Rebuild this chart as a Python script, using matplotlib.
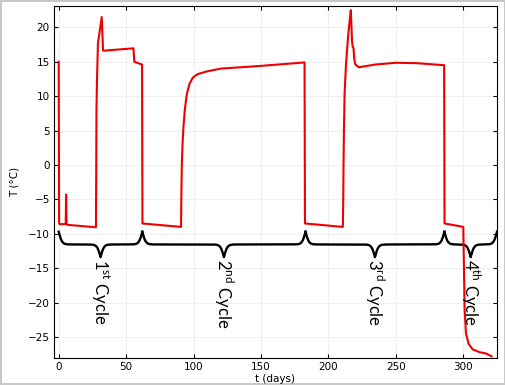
import numpy as np
import matplotlib.pyplot as plt

# temperature record (days, degC)
t_days = [0, 0.3, 0.6, 4.8, 5.2, 5.5, 5.8, 6.4, 27.6,
          27.8, 28.0, 28.4, 29.1, 30.3, 31.9, 32.9, 55.4, 56.1, 60.3, 61.8,
          62.1, 90.7,
          90.9, 91.3, 91.8, 92.5, 93.5, 95.0, 97.0, 99.5, 103, 110, 120, 150, 182.3,
          182.6, 210.7,
          211.0, 211.2, 211.5, 212.0, 213.0, 214.5, 215.5, 216.6, 217.5, 218.0,
          218.6, 219.2, 220.0, 222.6, 235, 250, 265, 285.8,
          286.1, 300.0,
          300.5, 301.0, 302.0, 304.0, 307.0, 312.0, 317.0, 321.0]
temp_c = [15.0, -8.3, -8.6, -8.6, -8.5, -4.3, -8.5, -8.7, -9.05,
          -2.0, 8.0, 12.4, 17.7, 19.3, 21.5, 16.6, 16.95, 15.0, 14.7, 14.6,
          -8.5, -9.0,
          -5.0, 0.0, 3.0, 5.5, 8.0, 10.3, 11.8, 12.7, 13.2, 13.6, 14.0, 14.4, 14.9,
          -8.5, -9.0,
          -5.0, 0.0, 5.0, 10.4, 14.5, 18.5, 20.5, 22.5, 18.0, 17.2,
          17.0, 15.3, 14.6, 14.2, 14.6, 14.85, 14.8, 14.5,
          -8.5, -9.0,
          -15.0, -21.0, -24.5, -26.0, -26.8, -27.2, -27.4, -27.8]

# cycle boundaries for the braces
cycle_edges = [0, 62, 183, 286, 325]
cycle_labels = ['1$^{\\mathrm{st}}$ Cycle', '2$^{\\mathrm{nd}}$ Cycle',
                '3$^{\\mathrm{rd}}$ Cycle', '4$^{\\mathrm{th}}$ Cycle']

plt.rcParams['mathtext.fontset'] = 'custom'
plt.rcParams['mathtext.rm'] = 'Lato'

fig = plt.figure(figsize=(5.06, 3.85), dpi=100)
fig.patch.set_edgecolor('#c8c8c8')
fig.patch.set_linewidth(1.5)
ax = fig.add_axes([0.1067, 0.0701, 0.8755, 0.9143])

ax.plot(t_days, temp_c, color='#ee0000', lw=1.5, zorder=3)


def brace(x0, x1, y_top=-9.7, depth=3.7, beta=0.8):
    x = np.linspace(x0, x1, 1601)
    half = x[:801]
    yh = 1 / (1 + np.exp(-beta * (half - half[0]))) + 1 / (1 + np.exp(-beta * (half - half[-1])))
    y = np.concatenate((yh, yh[-2::-1]))
    return x, y_top - (y - 0.5) * depth


for (a, b), lab in zip(zip(cycle_edges[:-1], cycle_edges[1:]), cycle_labels):
    bx, by = brace(a, b)
    ax.plot(bx, by, color='black', lw=1.7, zorder=2)
    ax.text((a + b) / 2, -13.7, lab, rotation=-90, ha='center', va='top',
            fontsize=12, family='Lato')

ax.set_xlim(-3.5, 325)
ax.set_ylim(-28.05, 23.1)
ax.set_xticks(range(0, 301, 50))
ax.set_yticks(range(-25, 21, 5))
ax.tick_params(direction='in', top=True, right=True, length=3, labelsize=7.5, pad=3)
ax.grid(color='#ececec', lw=0.6)
ax.set_xlabel('t (days)', fontsize=7.5, labelpad=1)
ax.set_ylabel('T (°C)', fontsize=7.5, labelpad=6)

fig.savefig('out.png', dpi=100)
